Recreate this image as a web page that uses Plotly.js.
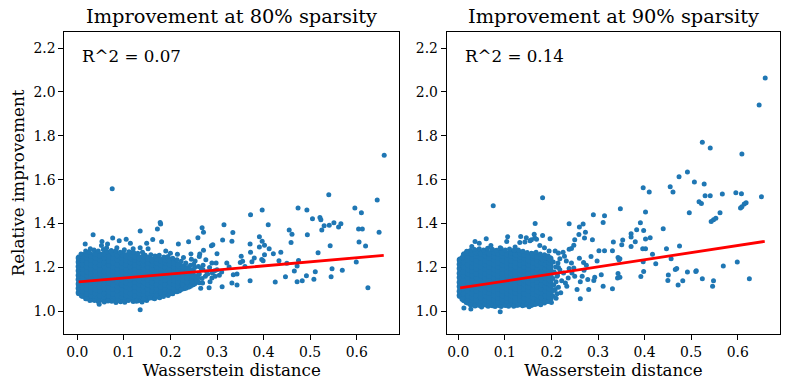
<!DOCTYPE html>
<html>
<head>
<meta charset="utf-8">
<script src="https://cdn.plot.ly/plotly-3.0.1.min.js"></script>
<style>html,body{margin:0;padding:0;background:#fff;}#chart{width:790px;height:390px;}</style>
</head>
<body>
<div id="chart"></div>
<script>
// ---- Data ----
const panelTitles = ["Improvement at 80% sparsity", "Improvement at 90% sparsity"];
const r2Labels = ["R^2 = 0.07", "R^2 = 0.14"];
const xTickVals = [0.0, 0.1, 0.2, 0.3, 0.4, 0.5, 0.6];
const yTickVals = [1.0, 1.2, 1.4, 1.6, 1.8, 2.0, 2.2];

// 80% sparsity: dense cloud, column positions and y values in each column
const cloud80Cols = [0.004,0.013,0.022,0.031,0.040,0.050,0.060,0.069,0.078,0.088,0.097,0.106,0.116,0.125,0.134,0.144,0.153,0.162,0.172,0.181,0.190,0.200,0.209,0.218,0.228,0.238,0.247,0.256];
const cloud80Ys = [
 [1.085,1.105,1.125,1.145,1.165,1.185,1.205,1.225,1.243],
 [1.072,1.093,1.113,1.134,1.154,1.176,1.195,1.216,1.236,1.255],
 [1.066,1.083,1.104,1.122,1.143,1.166,1.184,1.205,1.224,1.246,1.262],
 [1.058,1.075,1.094,1.115,1.133,1.155,1.174,1.196,1.214,1.236,1.255],
 [1.062,1.084,1.103,1.125,1.144,1.163,1.185,1.204,1.226,1.245,1.265],
 [1.055,1.073,1.095,1.114,1.135,1.154,1.175,1.194,1.215,1.236,1.256],
 [1.063,1.084,1.104,1.124,1.145,1.166,1.184,1.206,1.225,1.246,1.264],
 [1.056,1.075,1.094,1.115,1.134,1.155,1.176,1.195,1.216,1.234,1.255],
 [1.061,1.083,1.105,1.123,1.146,1.164,1.186,1.204,1.225,1.245,1.266],
 [1.054,1.074,1.096,1.114,1.135,1.156,1.174,1.196,1.214,1.236,1.257],
 [1.063,1.085,1.104,1.125,1.145,1.164,1.185,1.206,1.224,1.246,1.262],
 [1.056,1.076,1.094,1.116,1.134,1.155,1.175,1.194,1.215,1.235,1.254],
 [1.062,1.083,1.105,1.124,1.146,1.165,1.184,1.205,1.226,1.244,1.263],
 [1.057,1.074,1.095,1.113,1.136,1.154,1.176,1.195,1.214,1.236,1.252],
 [1.064,1.085,1.103,1.126,1.144,1.165,1.186,1.204,1.225,1.243],
 [1.058,1.076,1.096,1.115,1.135,1.156,1.174,1.196,1.215,1.234,1.252],
 [1.065,1.084,1.104,1.125,1.146,1.164,1.185,1.206,1.224,1.242],
 [1.066,1.075,1.095,1.114,1.134,1.155,1.176,1.194,1.216,1.233],
 [1.070,1.086,1.105,1.124,1.145,1.166,1.184,1.205,1.225,1.241],
 [1.075,1.094,1.115,1.136,1.154,1.175,1.196,1.214,1.232],
 [1.083,1.104,1.123,1.145,1.165,1.185,1.204,1.224,1.240],
 [1.085,1.096,1.114,1.135,1.155,1.174,1.195,1.215,1.232],
 [1.095,1.105,1.126,1.144,1.164,1.186,1.204,1.222],
 [1.098,1.116,1.134,1.155,1.175,1.194,1.213],
 [1.108,1.125,1.146,1.164,1.185,1.203],
 [1.115,1.136,1.154,1.176,1.195],
 [1.125,1.145,1.165,1.184],
 [1.137,1.158]
];
// 80% sparsity: ragged fringe around the cloud
const fringe80x = [0.008,0.018,0.026,0.036,0.045,0.056,0.064,0.073,0.083,0.092,0.101,0.111,0.121,0.130,0.140,0.158,0.167,0.176,0.186,0.195,0.205,0.214,0.223,0.233,0.243,0.252,
 0.009,0.018,0.027,0.045,0.058,0.074,0.083,0.093,0.102,0.120,0.131,0.139,0.149,0.166,0.177,0.195,0.205,0.214,0.223,0.233,0.243,0.252,0.262,
 0.262,0.268,0.275,0.270,0.280,0.290,0.300,0.310,0.260,0.250,0.284,0.296];
const fringe80y = [1.262,1.275,1.270,1.280,1.275,1.282,1.272,1.278,1.276,1.270,1.281,1.272,1.268,1.265,1.270,1.258,1.252,1.256,1.248,1.250,1.242,1.235,1.228,1.220,1.210,1.200,
 1.070,1.058,1.050,1.045,1.043,1.046,1.040,1.044,1.042,1.045,1.048,1.043,1.050,1.058,1.062,1.072,1.080,1.090,1.100,1.105,1.115,1.125,1.130,
 1.170,1.150,1.160,1.190,1.170,1.175,1.190,1.180,1.205,1.215,1.200,1.160];
// 80% sparsity: scattered points
const out80x = [0.659,0.075,0.135,0.540,0.644,0.596,0.610,0.474,0.493,0.397,0.372,0.505,0.521,0.523,0.551,0.566,0.541,0.530,0.561,0.525,0.648,0.604,0.612,0.455,0.461,0.494,0.410,0.315,0.268,0.271,0.334,0.391,0.397,0.402,0.391,0.312,0.332,0.288,0.291,0.259,0.239,0.217,0.178,0.179,0.135,0.172,0.162,0.181,0.412,0.371,0.372,0.380,0.375,0.360,0.399,0.402,0.396,0.437,0.459,0.475,0.450,0.472,0.517,0.543,0.599,0.605,0.619,0.547,0.569,0.511,0.466,0.492,0.508,0.483,0.472,0.447,0.425,0.545,0.624,0.371,0.350,0.352,0.343,0.335,0.332,0.343,0.311,0.326,0.321,0.298,0.300,0.289,0.283,0.269,0.289,0.271,0.276,0.263,0.245,0.253,0.262,0.244,0.257,0.246,0.246,0.260,0.355,0.421,0.433,0.266,0.278,0.270,0.295,0.305,0.285,0.265,
 0.017,0.034,0.076,0.065,0.052,0.090,0.105,0.114,0.053,0.063,0.135,0.149,0.152,0.190,0.120,0.028,0.085,0.200,0.215,0.228,
 0.047,0.037,0.087,0.110,0.170,0.156,0.127,0.066,0.142,0.020,0.185];
const out80y = [1.712,1.559,1.008,1.532,1.507,1.471,1.450,1.471,1.462,1.462,1.440,1.422,1.428,1.418,1.404,1.399,1.393,1.390,1.384,1.371,1.361,1.375,1.375,1.371,1.352,1.349,1.395,1.395,1.381,1.361,1.360,1.340,1.320,1.301,1.293,1.325,1.320,1.299,1.304,1.335,1.317,1.307,1.405,1.398,1.366,1.375,1.328,1.317,1.285,1.307,1.269,1.243,1.226,1.205,1.231,1.258,1.237,1.269,1.314,1.232,1.219,1.207,1.267,1.299,1.225,1.316,1.298,1.194,1.188,1.181,1.184,1.162,1.147,1.140,1.135,1.158,1.134,1.158,1.108,1.140,1.223,1.251,1.170,1.167,1.129,1.120,1.112,1.202,1.220,1.220,1.263,1.220,1.108,1.129,1.152,1.279,1.235,1.261,1.238,1.230,1.250,1.262,1.140,1.135,1.159,1.155,1.228,1.263,1.231,1.195,1.180,1.210,1.185,1.165,1.135,1.105,
 1.307,1.349,1.334,1.307,1.300,1.322,1.329,1.310,1.318,1.290,1.290,1.310,1.285,1.275,1.285,1.285,1.290,1.265,1.260,1.245,
 1.033,1.050,1.050,1.050,1.073,1.062,1.046,1.047,1.055,1.058,1.068];
const fit80x = [0.003, 0.658];
const fit80y = [1.134, 1.255];

// 90% sparsity: dense cloud
const cloud90Cols = [0.004,0.013,0.022,0.031,0.040,0.050,0.059,0.068,0.078,0.087,0.096,0.106,0.115,0.124,0.134,0.143,0.152,0.162,0.171,0.180,0.189,0.197];
const cloud90Ys = [
 [1.072,1.092,1.113,1.133,1.154,1.174,1.195,1.215,1.234],
 [1.053,1.064,1.083,1.104,1.124,1.143,1.165,1.184,1.205,1.226,1.245,1.258],
 [1.042,1.055,1.074,1.095,1.113,1.134,1.155,1.175,1.194,1.214,1.236,1.255,1.268],
 [1.036,1.045,1.066,1.084,1.105,1.126,1.144,1.165,1.186,1.204,1.225,1.244,1.264],
 [1.035,1.054,1.075,1.096,1.114,1.135,1.156,1.174,1.195,1.216,1.234,1.255,1.272],
 [1.033,1.044,1.065,1.085,1.104,1.124,1.145,1.166,1.185,1.204,1.226,1.245,1.265],
 [1.034,1.055,1.074,1.094,1.115,1.136,1.154,1.176,1.196,1.215,1.235,1.256,1.273],
 [1.032,1.045,1.066,1.086,1.105,1.125,1.146,1.164,1.184,1.205,1.225,1.246,1.264],
 [1.036,1.054,1.076,1.095,1.114,1.134,1.155,1.175,1.194,1.216,1.236,1.254,1.271],
 [1.031,1.044,1.065,1.084,1.106,1.126,1.144,1.165,1.186,1.206,1.224,1.245,1.265],
 [1.034,1.056,1.075,1.096,1.115,1.135,1.156,1.174,1.195,1.214,1.235,1.255,1.270],
 [1.033,1.045,1.064,1.085,1.104,1.124,1.145,1.166,1.185,1.204,1.226,1.244,1.262],
 [1.035,1.055,1.076,1.094,1.116,1.136,1.154,1.176,1.196,1.215,1.234,1.256,1.268],
 [1.032,1.046,1.066,1.086,1.105,1.125,1.146,1.164,1.184,1.205,1.225,1.245,1.262],
 [1.036,1.054,1.074,1.095,1.114,1.134,1.155,1.175,1.194,1.216,1.236,1.254,1.266],
 [1.034,1.044,1.065,1.084,1.106,1.126,1.144,1.165,1.186,1.206,1.224,1.244,1.260],
 [1.037,1.056,1.075,1.096,1.115,1.135,1.156,1.174,1.195,1.214,1.235,1.252],
 [1.036,1.045,1.064,1.085,1.104,1.124,1.145,1.166,1.185,1.204,1.226,1.245,1.258],
 [1.040,1.055,1.076,1.094,1.116,1.136,1.154,1.176,1.196,1.215,1.234,1.250],
 [1.044,1.066,1.086,1.105,1.125,1.146,1.164,1.184,1.205,1.225,1.244],
 [1.050,1.074,1.095,1.114,1.134,1.155,1.175,1.194,1.216,1.236,1.248],
 [1.058,1.065,1.084,1.106,1.126,1.144,1.165,1.186,1.206,1.224,1.240]
];
// 90% sparsity: ragged fringe around the cloud
const fringe90x = [0.008,0.017,0.026,0.035,0.045,0.054,0.063,0.073,0.082,0.092,0.101,0.110,0.120,0.129,0.139,0.148,0.157,0.167,0.176,0.185,0.193,
 0.008,0.017,0.026,0.036,0.045,0.064,0.073,0.092,0.101,0.119,0.138,0.147,0.157,0.166,0.185,0.193,
 0.203,0.205,0.203,0.206,0.204,0.210,0.212,0.215,0.208,0.213];
const fringe90y = [1.245,1.266,1.278,1.282,1.285,1.280,1.288,1.283,1.279,1.286,1.280,1.284,1.277,1.280,1.274,1.268,1.265,1.270,1.262,1.258,1.252,
 1.055,1.040,1.030,1.025,1.027,1.023,1.026,1.022,1.027,1.024,1.026,1.030,1.027,1.032,1.038,1.045,
 1.070,1.120,1.150,1.180,1.225,1.135,1.080,1.200,1.100,1.165];
// 90% sparsity: scattered points
const out90x = [0.659,0.646,0.524,0.541,0.609,0.492,0.474,0.507,0.528,0.397,0.455,0.461,0.410,0.596,0.608,0.651,0.567,0.530,0.541,0.517,0.522,0.618,0.614,0.609,0.606,0.496,0.562,0.553,0.548,0.543,0.181,0.075,0.348,0.290,0.314,0.402,0.391,0.440,0.383,0.371,0.371,0.371,0.380,0.398,0.402,0.412,0.396,0.402,0.238,0.260,0.268,0.273,0.271,0.288,0.259,0.250,0.248,0.243,0.238,0.311,0.165,0.163,0.181,0.197,0.134,0.146,0.157,0.168,0.106,0.060,0.333,0.353,0.351,0.302,0.314,0.331,0.343,0.345,0.447,0.417,0.475,0.457,0.424,0.397,0.398,0.392,0.451,0.450,0.466,0.469,0.492,0.510,0.511,0.482,0.472,0.524,0.546,0.548,0.569,0.599,0.625,0.347,0.343,0.347,0.342,0.331,0.311,0.307,0.293,0.291,0.262,0.269,0.270,0.266,0.260,0.243,0.248,0.244,0.236,0.233,0.230,0.208,0.215,0.225,0.228,0.218,0.214,0.209,
 0.036,0.018,0.029,0.045,0.104,0.122,0.132,0.143,0.154,0.164,0.070,0.090,0.175,0.185,0.195,0.120,
 0.012,0.027,0.090,0.152,0.200,0.050,0.079,0.108,0.128,0.177,0.170,0.210,0.220,0.205,
 0.215,0.222,0.212,0.226,0.218,0.238,0.232,0.250,0.255,0.280,0.275,0.285,0.298,0.262,0.278];
const out90y = [2.063,1.940,1.771,1.744,1.717,1.635,1.614,1.589,1.580,1.563,1.568,1.544,1.544,1.541,1.536,1.522,1.535,1.527,1.527,1.500,1.492,1.495,1.489,1.477,1.471,1.450,1.450,1.424,1.418,1.410,1.518,1.481,1.468,1.440,1.436,1.453,1.404,1.377,1.372,1.354,1.339,1.296,1.317,1.369,1.330,1.336,1.285,1.285,1.399,1.384,1.398,1.361,1.334,1.327,1.350,1.327,1.301,1.286,1.283,1.405,1.401,1.352,1.346,1.331,1.341,1.335,1.326,1.329,1.340,1.331,1.316,1.325,1.304,1.276,1.276,1.276,1.246,1.235,1.285,1.260,1.298,1.240,1.217,1.226,1.182,1.159,1.166,1.141,1.191,1.196,1.179,1.182,1.185,1.140,1.120,1.149,1.115,1.140,1.207,1.225,1.149,1.240,1.173,1.156,1.152,1.103,1.115,1.167,1.156,1.141,1.058,1.223,1.187,1.160,1.242,1.220,1.198,1.175,1.152,1.114,1.129,1.275,1.266,1.269,1.251,1.240,1.220,1.202,
 1.319,1.274,1.296,1.310,1.319,1.293,1.314,1.316,1.322,1.334,1.300,1.290,1.300,1.290,1.275,1.280,
 1.015,1.011,0.998,1.021,1.040,1.020,1.022,1.024,1.028,1.030,1.045,1.060,1.085,1.095,
 1.110,1.140,1.160,1.175,1.190,1.195,1.230,1.160,1.100,1.100,1.210,1.250,1.230,1.135,1.145];
const fit90x = [0.004, 0.658];
const fit90y = [1.107, 1.319];

// ---- Build traces ----
const CLOUD_SIZE = 7, POINT_SIZE = 5;
function assemble(cols, ys, fx, fy, ox, oy) {
  const x = [], y = [], s = [];
  cols.forEach((cx, i) => ys[i].forEach(v => { x.push(cx); y.push(v); s.push(CLOUD_SIZE); }));
  fx.forEach((v, i) => { x.push(v); y.push(fy[i]); s.push(POINT_SIZE); });
  ox.forEach((v, i) => { x.push(v); y.push(oy[i]); s.push(POINT_SIZE); });
  return {x, y, s};
}
const p80 = assemble(cloud80Cols, cloud80Ys, fringe80x, fringe80y, out80x, out80y);
const p90 = assemble(cloud90Cols, cloud90Ys, fringe90x, fringe90y, out90x, out90y);

const blue = '#1f77b4';
const FONT = 'DejaVu Serif, serif';
function mk(s) { return {color: blue, size: s, opacity: 1, line: {width: 0, color: blue}}; }

const traces = [
  {type: 'scatter', mode: 'markers', x: p80.x, y: p80.y, marker: mk(p80.s), xaxis: 'x', yaxis: 'y', hoverinfo: 'skip'},
  {type: 'scatter', mode: 'lines', x: fit80x, y: fit80y, line: {color: '#ff0000', width: 2.8}, xaxis: 'x', yaxis: 'y'},
  {type: 'scatter', mode: 'markers', x: p90.x, y: p90.y, marker: mk(p90.s), xaxis: 'x2', yaxis: 'y2', hoverinfo: 'skip'},
  {type: 'scatter', mode: 'lines', x: fit90x, y: fit90y, line: {color: '#ff0000', width: 2.8}, xaxis: 'x2', yaxis: 'y2'}
];

const axBase = {
  showline: true, mirror: true, linecolor: '#000', linewidth: 1,
  ticks: 'outside', ticklen: 5, tickwidth: 1, tickcolor: '#000',
  showgrid: false, zeroline: false,
  tickfont: {family: FONT, size: 13.9, color: '#000'},
  tickformat: '.1f', tickmode: 'array'
};
const xTitle = {text: 'Wasserstein distance', font: {family: FONT, size: 16.7, color: '#000'}, standoff: 5};

const layout = {
  width: 790, height: 390,
  margin: {l: 64, r: 10, t: 32, b: 56},
  paper_bgcolor: '#fff', plot_bgcolor: '#fff',
  showlegend: false,
  xaxis: Object.assign({}, axBase, {domain: [0.0004, 0.4679], range: [-0.0279, 0.6908], tickvals: xTickVals, title: xTitle, anchor: 'y'}),
  yaxis: Object.assign({}, axBase, {domain: [0, 1], range: [0.897, 2.273], tickvals: yTickVals, anchor: 'x',
    title: {text: 'Relative improvement', font: {family: FONT, size: 16.7, color: '#000'}, standoff: 4}}),
  xaxis2: Object.assign({}, axBase, {domain: [0.5345, 1], range: [-0.0249, 0.6908], tickvals: xTickVals, title: xTitle, anchor: 'y2'}),
  yaxis2: Object.assign({}, axBase, {domain: [0, 1], range: [0.897, 2.273], tickvals: yTickVals, anchor: 'x2'}),
  annotations: [
    {text: panelTitles[0], xref: 'x domain', yref: 'y domain', x: 0.5, y: 1, xanchor: 'center', yanchor: 'bottom', yshift: 2, showarrow: false, font: {family: FONT, size: 19.4, color: '#000'}},
    {text: panelTitles[1], xref: 'x2 domain', yref: 'y2 domain', x: 0.5, y: 1, xanchor: 'center', yanchor: 'bottom', yshift: 2, showarrow: false, font: {family: FONT, size: 19.4, color: '#000'}},
    {text: r2Labels[0], xref: 'x domain', yref: 'y domain', x: 0.048, y: 0.96, xanchor: 'left', yanchor: 'top', showarrow: false, font: {family: FONT, size: 16.7, color: '#000'}},
    {text: r2Labels[1], xref: 'x2 domain', yref: 'y2 domain', x: 0.048, y: 0.96, xanchor: 'left', yanchor: 'top', showarrow: false, font: {family: FONT, size: 16.7, color: '#000'}}
  ]
};

Plotly.newPlot('chart', traces, layout, {displayModeBar: false, staticPlot: true});
</script>
</body>
</html>
